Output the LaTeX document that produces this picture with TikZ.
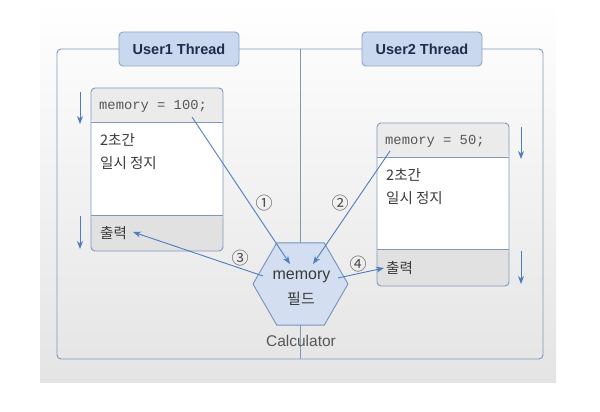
\documentclass[tikz,border=0pt]{standalone}
\usepackage{fontspec}
\setmainfont{Liberation Sans}
\setmonofont{Liberation Mono}
\newfontfamily\kr{Noto Sans CJK KR}
\usetikzlibrary{arrows.meta,shapes.geometric}
\definecolor{bgbot}{HTML}{E4E4E4}
\definecolor{framec}{HTML}{7F98BA}
\definecolor{labfill}{HTML}{C9D8EF}
\definecolor{labdraw}{HTML}{8AA3C8}
\definecolor{labtext}{HTML}{1F2D4D}
\definecolor{headfill}{HTML}{EBEBEB}
\definecolor{footfill}{HTML}{E1E1E1}
\definecolor{arrowc}{HTML}{4D7DBD}
\definecolor{hexfill}{HTML}{D3DFF1}
\definecolor{hexdraw}{HTML}{7592BD}
\definecolor{txt}{HTML}{3A3A3A}
\tikzset{
  frame/.style={draw=framec, line width=0.9pt, rounded corners=4pt, inner sep=0pt},
  tlabel/.style={draw=labdraw, fill=labfill, line width=0.9pt, rounded corners=4pt,
    text=labtext, font=\bfseries\fontsize{14.5}{16}\selectfont, inner sep=0pt,
    minimum width=120pt, minimum height=34pt},
  stepbox/.style={draw=framec, line width=0.9pt, fill=white, rounded corners=4pt,
    minimum width=132pt, minimum height=163pt, inner sep=0pt},
  codetext/.style={font=\ttfamily\fontsize{13.8}{16}\selectfont, text=txt!85, inner sep=0pt, anchor=west},
  krtext/.style={font=\kr\fontsize{14.5}{16}\selectfont, text=txt, inner sep=0pt, anchor=west},
  numtext/.style={font=\kr\fontsize{17}{18}\selectfont, text=txt!90, inner sep=0pt},
  flow/.style={draw=arrowc, line width=0.9pt, -{Stealth[length=8pt,width=6pt]}},
  hexa/.style={regular polygon, regular polygon sides=6, minimum size=95pt, inner sep=0pt,
    draw=hexdraw, fill=hexfill, line width=0.9pt},
  hextext/.style={font=\fontsize{16}{18}\selectfont, text=txt, inner sep=0pt},
}
\begin{document}
\begin{tikzpicture}[x=1pt,y=-1pt]
\useasboundingbox (0,0) rectangle (600,412);
\shade[top color=white, middle color=white!75!bgbot, bottom color=bgbot] (40,0) rectangle (556,382);

% outer frame and divider
\node[frame, minimum width=486pt, minimum height=310pt] (F) at (300,204) {};
\draw[draw=framec, line width=0.9pt] (F.north) -- (F.south);

% thread labels
\node[tlabel] (T1) at (179,49) {User1 Thread};
\node[tlabel] (T2) at (422,49) {User2 Thread};

% left box
\node[stepbox, path picture={
  \fill[headfill] (path picture bounding box.north west) rectangle ([yshift=-34pt]path picture bounding box.north east);
  \fill[footfill] (path picture bounding box.south west) rectangle ([yshift=36pt]path picture bounding box.south east);
  \draw[framec, line width=0.9pt] ([yshift=-34pt]path picture bounding box.north west) -- ([yshift=-34pt]path picture bounding box.north east);
  \draw[framec, line width=0.9pt] ([yshift=36pt]path picture bounding box.south west) -- ([yshift=36pt]path picture bounding box.south east);
}] (L) at (157,169.5) {};
% right box
\node[stepbox, path picture={
  \fill[headfill] (path picture bounding box.north west) rectangle ([yshift=-34pt]path picture bounding box.north east);
  \fill[footfill] (path picture bounding box.south west) rectangle ([yshift=37pt]path picture bounding box.south east);
  \draw[framec, line width=0.9pt] ([yshift=-34pt]path picture bounding box.north west) -- ([yshift=-34pt]path picture bounding box.north east);
  \draw[framec, line width=0.9pt] ([yshift=37pt]path picture bounding box.south west) -- ([yshift=37pt]path picture bounding box.south east);
}] (R) at (443,204.5) {};

% texts in boxes
\node[codetext] (L1) at (99,106) {memory = 100;};
\node[krtext] (L2) at (100,140) {2초간};
\node[krtext] (L3) at (100,163) {일시 정지};
\node[krtext] (L4) at (100,233) {출력};
\node[codetext] (R1) at (385,141) {memory = 50;};
\node[krtext] (R2) at (386,175) {2초간};
\node[krtext] (R3) at (386,198) {일시 정지};
\node[krtext] (R4) at (386,268) {출력};

% down arrows
\coordinate (d1a) at (80,92);  \coordinate (d1b) at (80,124);
\coordinate (d2a) at (80,216); \coordinate (d2b) at (80,249);
\coordinate (d3a) at (521,127); \coordinate (d3b) at (521,159);
\coordinate (d4a) at (521,251); \coordinate (d4b) at (521,284);
\draw[flow] (d1a) -- (d1b);
\draw[flow] (d2a) -- (d2b);
\draw[flow] (d3a) -- (d3b);
\draw[flow] (d4a) -- (d4b);

% hexagon
\node[hexa] (H) at (300.5,284) {};
\node[hextext] (H1) at (301.5,277) {memory};
\node[hextext, font=\kr\fontsize{15}{17}\selectfont] (H2) at (301,299) {필드};
\node[hextext, font=\fontsize{15.5}{18}\selectfont, text=txt!85] (C) at (301,341) {Calculator};

% flow arrows
\coordinate (a1s) at (192,117); \coordinate (a1e) at (290,264);
\coordinate (a2s) at (390,151); \coordinate (a2e) at (313,264);
\coordinate (a3s) at (263,276); \coordinate (a3e) at (133,232);
\coordinate (a4s) at (338,278); \coordinate (a4e) at (384,268);
\draw[flow] (a1s) -- (a1e);
\draw[flow] (a2s) -- (a2e);
\draw[flow] (a3s) -- (a3e);
\draw[flow] (a4s) -- (a4e);

% step numbers
\node[numtext] (n1) at (264,203) {①};
\node[numtext] (n2) at (340,203) {②};
\node[numtext] (n3) at (240,258) {③};
\node[numtext] (n4) at (358,264) {④};
\end{tikzpicture}
\end{document}
